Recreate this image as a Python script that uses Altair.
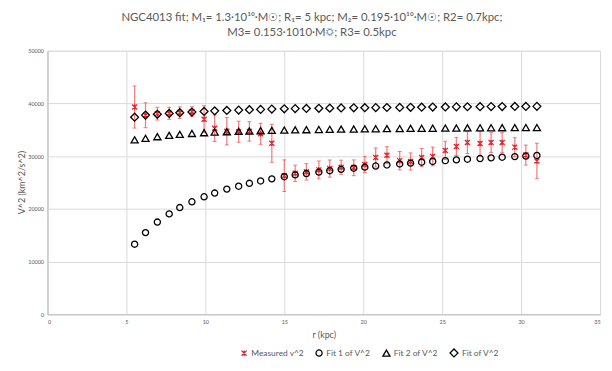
import altair as alt
import pandas as pd

# ---- data ----
r = [5.52, 6.21, 6.96, 7.71, 8.38, 9.15, 9.92, 10.59, 11.36, 12.11, 12.79, 13.5,
     14.21, 15.0, 15.69, 16.4, 17.19, 17.88, 18.6, 19.4, 20.1, 20.79, 21.5, 22.31,
     23.0, 23.7, 24.4, 25.2, 25.9, 26.6, 27.4, 28.1, 28.8, 29.6, 30.3, 31.0]

measured = [39330, 37770, 38080, 38140, 38260, 38450, 37020, 35300, 34740, 34640,
            34700, 34250, 32450, 26300, 26750, 27030, 27400, 27650, 27900, 27800,
            28420, 29750, 30180, 29150, 29000, 29750, 29950, 31090, 31840, 32590,
            32400, 32590, 32590, 31710, 30210, 29090]

err = [4000, 2370, 1220, 1150, 1100, 940, 2560, 2500, 2600, 2000, 1850, 2000,
       3600, 3000, 1550, 1560, 1700, 1630, 1340, 1500, 1550, 1800, 1620, 1750,
       1620, 1720, 1780, 1750, 1720, 2090, 2300, 1870, 1870, 1810, 1900, 3370]

fit1 = [13300, 15500, 17500, 19050, 20250, 21350, 22300, 23000, 23750, 24300,
        24850, 25300, 25700, 26100, 26450, 26700, 26980, 27250, 27500, 27720,
        27920, 28130, 28330, 28520, 28680, 28850, 29000, 29150, 29300, 29420,
        29550, 29680, 29800, 29920, 30030, 30140]

fit2 = [33100, 33400, 33700, 33950, 34140, 34320, 34460, 34570, 34650, 34720,
        34780, 34840, 34900, 34950, 34990, 35030, 35070, 35100, 35130, 35160,
        35190, 35210, 35230, 35250, 35270, 35290, 35310, 35330, 35350, 35370,
        35390, 35400, 35410, 35420, 35430, 35440]

fit_total = [37400, 37800, 37950, 38120, 38250, 38380, 38500, 38600, 38680, 38750,
             38820, 38880, 38940, 38990, 39030, 39060, 39090, 39120, 39150, 39180,
             39200, 39220, 39240, 39260, 39280, 39300, 39320, 39340, 39360, 39380,
             39400, 39410, 39420, 39440, 39450, 39460]

series_names = ["Measured v^2", "Fit 1 of V^2", "Fit 2 of V^2", "Fit of V^2"]

title_lines = [
    "NGC4013 fit; M\u2081= 1.3\u00b710\u00b9\u2070\u00b7M\u2609; R\u2081= 5 kpc; M\u2082= 0.195\u00b710\u00b9\u2070\u00b7M\u2609; R2= 0.7kpc;",
    "M3= 0.153\u00b71010\u00b7M\u263c; R3= 0.5kpc",
]

# ---- tables ----
meas_df = pd.DataFrame({
    "r": r,
    "v2": measured,
    "lo": [m - e for m, e in zip(measured, err)],
    "hi": [m + e for m, e in zip(measured, err)],
    "series": series_names[0],
})

pts_df = pd.concat([
    pd.DataFrame({"r": r, "v2": measured, "series": series_names[0]}),
    pd.DataFrame({"r": r, "v2": fit1, "series": series_names[1]}),
    pd.DataFrame({"r": r, "v2": fit2, "series": series_names[2]}),
    pd.DataFrame({"r": r, "v2": fit_total, "series": series_names[3]}),
], ignore_index=True)

FONT = "Lato"
GRAY = "#595959"

x_scale = alt.Scale(domain=[0, 35], nice=False)
y_scale = alt.Scale(domain=[0, 50000], nice=False)

x_axis = alt.Axis(values=list(range(0, 36, 5)), title="r (kpc)", labelFontSize=5.5,
                  labelColor=GRAY, labelPadding=5, ticks=False, domainColor="#bfbfbf",
                  gridColor="#d9d9d9", titleFontSize=9, titleColor=GRAY,
                  titleFontWeight="normal", titleY=21, titleBaseline="middle")
y_axis = alt.Axis(values=list(range(0, 50001, 5000)), format="d", title="V^2 (km^2/s^2)",
                  labelFontSize=5.5, labelColor=GRAY, labelPadding=4, ticks=False,
                  domainColor="#bfbfbf", gridColor="#d9d9d9", titleFontSize=9,
                  titleColor=GRAY, titleFontWeight="normal", titleX=-26, titleY=133,
                  titleAngle=-90, titleAlign="center", titleBaseline="middle")

base_meas = alt.Chart(meas_df)

bars = base_meas.mark_rule(color="#f26b6b", strokeWidth=1.3, opacity=0.85).encode(
    x=alt.X("r:Q", scale=x_scale, axis=x_axis),
    y=alt.Y("lo:Q", scale=y_scale, axis=y_axis),
    y2="hi:Q",
)
cap_lo = base_meas.mark_tick(color="#f04848", orient="horizontal", size=4, thickness=1).encode(
    x="r:Q", y="lo:Q")
cap_hi = base_meas.mark_tick(color="#f04848", orient="horizontal", size=4, thickness=1).encode(
    x="r:Q", y="hi:Q")

star = "M-1,-1L1,1M-1,1L1,-1M0,-1.1L0,1.1"

legend = alt.Legend(title=None, orient="none", direction="horizontal", legendX=195,
                    legendY=301, labelFontSize=8.5, labelColor=GRAY, symbolSize=26,
                    symbolStrokeWidth=1.3, columnPadding=9, labelOffset=3, labelFont=FONT)

points = alt.Chart(pts_df).mark_point(filled=False, strokeWidth=1.3, opacity=1).encode(
    x="r:Q",
    y="v2:Q",
    shape=alt.Shape("series:N", scale=alt.Scale(domain=series_names,
                    range=[star, "circle", "triangle-up", "diamond"]), legend=legend),
    color=alt.Color("series:N", scale=alt.Scale(domain=series_names,
                    range=["#e8242b", "#000000", "#000000", "#000000"]), legend=legend),
    size=alt.Size("series:N", scale=alt.Scale(domain=series_names,
                  range=[26, 64, 62, 52]), legend=None),
    order=alt.Order("series:N", sort="descending"),
)

chart = alt.layer(bars, cap_lo, cap_hi, points).properties(
    width=560,
    height=267,
    autosize=alt.AutoSizeParams(type="none"),
    padding={"left": 40, "top": 41, "right": 4, "bottom": 46},
    title=alt.TitleParams(text=title_lines, fontSize=11.5, fontWeight="normal",
                          color=GRAY, font=FONT, anchor="middle", dx=-12, offset=10,
                          lineHeight=16),
).configure_view(stroke=None).configure(font=FONT)

chart.save("out.html", embed_options={"renderer": "svg", "actions": False})
